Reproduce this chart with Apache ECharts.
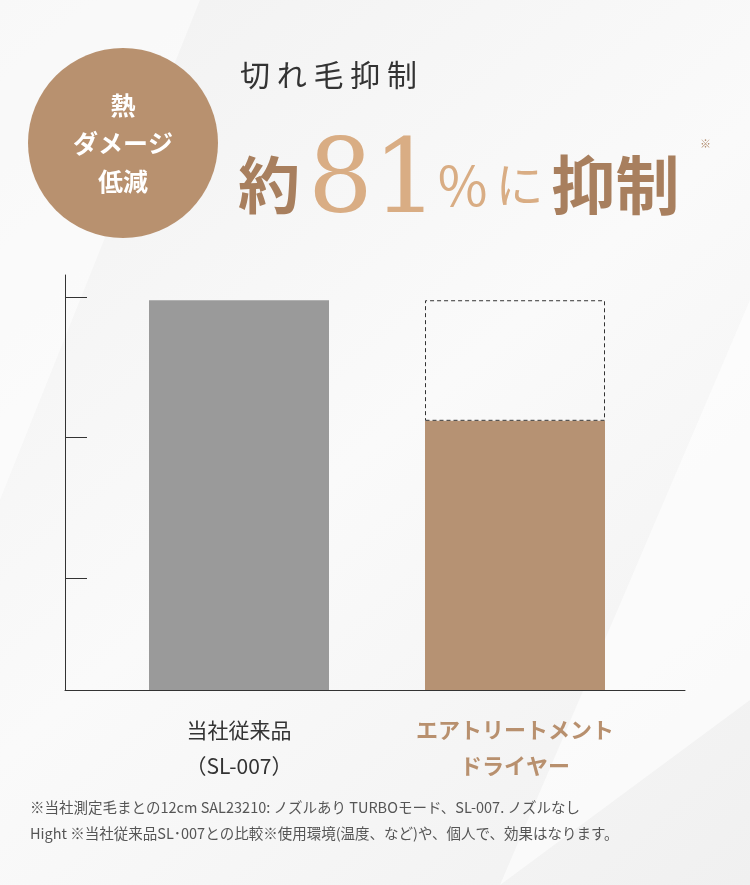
<!DOCTYPE html><html><head><meta charset="utf-8">
<script src="https://cdn.jsdelivr.net/npm/echarts@6/dist/echarts.min.js"></script>
<style>html,body{margin:0;padding:0;background:#f6f6f6}#c{width:750px;height:885px}</style></head><body><div id="c"></div>
<script>
const categories=['当社従来品\n（SL-007）','エアトリートメント\nドライヤー'];
const baseValues=[139,96];
const gapValues=[null,43];
const tickValues=[40,90,140];
const chart=echarts.init(document.getElementById('c'));
const c1='#b38a66',c2='#d9ad84';
const ff='"Noto Sans CJK JP",sans-serif';
chart.setOption({
backgroundColor:new echarts.graphic.LinearGradient(0,0,1,1,[{offset:0,color:'#f1f1f1'},{offset:0.5,color:'#fafafa'},{offset:1,color:'#f0f0f0'}]),
graphic:[
{type:'polygon',shape:{points:[[0,0],[200,0],[0,500]]},style:{fill:'rgba(255,255,255,0.5)'},z:-10},
{type:'polygon',shape:{points:[[750,300],[750,700],[500,885]]},style:{fill:'rgba(255,255,255,0.6)'},z:-10},
{type:'circle',shape:{cx:123,cy:143,r:95},style:{fill:'#b8916f'}},
{type:'text',x:123,y:143,style:{text:'熱\nダメージ\n低減',fill:'#fff',font:'bold 25px '+ff,align:'center',verticalAlign:'middle',lineHeight:38}},
{type:'text',x:240,y:75,style:{text:'切 れ 毛 抑 制',fill:'#333',font:'30px '+ff,verticalAlign:'middle'}},
{type:'text',x:238,y:185,style:{rich:{a:{font:'bold 62px "Noto Sans CJK JP"',fill:'#a87f5e',padding:[0,8,0,0]},n:{font:'102px "DejaVu Serif",serif',fill:c2},p:{font:'54px "Noto Sans CJK JP"',fill:c2,padding:[0,8,0,0]},h:{font:'48px "Noto Sans CJK JP"',fill:c2,padding:[0,8,0,0]},b:{font:'bold 64px "Noto Sans CJK JP"',fill:'#a87f5e'}},text:'{a|約}{n|81}{p|%}{h|に}{b|抑制}',verticalAlign:'middle'}},
{type:'text',x:700,y:138,style:{text:'※',fill:'#b08a6a',font:'11px '+ff}},
{type:'text',x:30,y:820,style:{text:'※当社測定毛まとの12cm SAL23210: ノズルあり TURBOモード、SL-007. ノズルなし\nHight ※当社従来品SL･007との比較※使用環境(温度、など)や、個人で、効果はなります。',fill:'#555',font:'14.5px '+ff,lineHeight:26,verticalAlign:'middle'}}
],
grid:[{left:65,right:65,top:275,bottom:195},{left:101,right:97,top:275,bottom:195}],
xAxis:[
{gridIndex:0,type:'value',min:0,max:1,axisLine:{show:true,onZero:false,lineStyle:{color:'#333'}},axisTick:{show:false},axisLabel:{show:false},splitLine:{show:false}},
{gridIndex:1,type:'category',data:categories,axisLine:{show:false},axisTick:{show:false},
 axisLabel:{margin:22,lineHeight:36,formatter:(v,i)=>i===0?'{g|'+v.split('\n').join('}\n{g|')+'}':'{b|'+v.split('\n').join('}\n{b|')+'}',
 rich:{g:{fontSize:21,color:'#333',fontFamily:ff,lineHeight:36},b:{fontSize:22,fontWeight:'bold',color:'#b8906e',fontFamily:ff,lineHeight:36}}}}
],
yAxis:[
{gridIndex:0,type:'value',min:0,max:148,axisLine:{show:true,lineStyle:{color:'#333'}},axisTick:{show:true,inside:true,length:22,customValues:tickValues,lineStyle:{color:'#333'}},axisLabel:{show:false},splitLine:{show:false}},
{gridIndex:1,type:'value',min:0,max:148,show:false}
],
series:[
{type:'bar',xAxisIndex:1,yAxisIndex:1,stack:'s',barWidth:180,data:baseValues.map((v,i)=>({value:v,itemStyle:{color:i===0?'#9a9a9a':'#b69273'}})),silent:true},
{type:'bar',xAxisIndex:1,yAxisIndex:1,stack:'s',barWidth:180,data:gapValues,itemStyle:{color:'rgba(255,255,255,0)',borderColor:'#333',borderType:[4,3],borderWidth:1},silent:true}
]
});
</script></body></html>
